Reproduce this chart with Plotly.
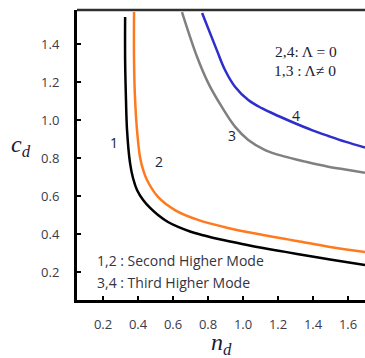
import plotly.graph_objects as go

# Mode curves: c_d versus n_d
nd_1 = [0.326, 0.326, 0.331, 0.337, 0.354, 0.371, 0.394, 0.429, 0.469, 0.514, 0.571,
        0.629, 0.697, 0.766, 0.846, 0.926, 1.017, 1.114, 1.211, 1.309, 1.497, 1.697]
cd_1 = [1.542, 1.316, 1.105, 0.947, 0.774, 0.695, 0.632, 0.579, 0.537, 0.500, 0.463,
        0.437, 0.413, 0.395, 0.376, 0.361, 0.343, 0.326, 0.311, 0.295, 0.266, 0.237]

nd_2 = [0.377, 0.377, 0.383, 0.394, 0.411, 0.429, 0.451, 0.514, 0.611, 0.743, 0.914,
        1.114, 1.309, 1.497, 1.697]
cd_2 = [1.568, 1.316, 1.105, 0.947, 0.805, 0.737, 0.684, 0.595, 0.526, 0.474, 0.432,
        0.395, 0.363, 0.332, 0.305]

nd_3 = [0.651, 0.737, 0.802, 0.878, 0.954, 1.030, 1.126, 1.240, 1.354, 1.487, 1.602, 1.697]
cd_3 = [1.568, 1.333, 1.193, 1.070, 0.965, 0.895, 0.842, 0.807, 0.781, 0.754, 0.737, 0.722]

nd_4 = [0.766, 0.850, 0.897, 0.954, 1.030, 1.107, 1.202, 1.297, 1.393, 1.487, 1.583, 1.697]
cd_4 = [1.563, 1.368, 1.263, 1.175, 1.105, 1.062, 1.021, 0.983, 0.947, 0.916, 0.886, 0.855]

curve_names = ["1", "2", "3", "4"]
curve_colors = ["#000000", "#FF7A1E", "#808080", "#2E2ECC"]

x_ticks = [0.2, 0.4, 0.6, 0.8, 1.0, 1.2, 1.4, 1.6]
y_ticks = [0.2, 0.4, 0.6, 0.8, 1.0, 1.2, 1.4]

label_pos = {"1": (0.263, 0.884), "2": (0.52, 0.779), "3": (0.937, 0.921), "4": (1.303, 1.026)}

fig = go.Figure()
for name, xs, ys, col in zip(curve_names, [nd_1, nd_2, nd_3, nd_4],
                             [cd_1, cd_2, cd_3, cd_4], curve_colors):
    fig.add_trace(go.Scatter(x=xs, y=ys, mode="lines", name=name,
                             line=dict(color=col, width=2.5, shape="spline", smoothing=1),
                             showlegend=False))

tick_font = dict(family="Open Sans, sans-serif", size=13, color="#3a3a4a")

fig.update_layout(
    width=365, height=358,
    margin=dict(l=77, r=0, t=10, b=58),
    paper_bgcolor="white", plot_bgcolor="white",
    xaxis=dict(range=[0.051, 1.697], tickvals=x_ticks, ticktext=[f"{v:.1f}" for v in x_ticks],
               showgrid=False, zeroline=False, showline=True, linecolor="black", linewidth=3,
               ticks="inside", ticklen=4, tickwidth=2, tickcolor="black",
               tickfont=tick_font, ticklabelstandoff=10),
    yaxis=dict(range=[0.0526, 1.579], tickvals=y_ticks, ticktext=[f"{v:.1f}" for v in y_ticks],
               showgrid=False, zeroline=False, showline=True, linecolor="black", linewidth=3,
               ticks="inside", ticklen=4, tickwidth=2, tickcolor="black",
               tickfont=tick_font, ticklabelstandoff=12),
)

# top frame line
fig.add_shape(type="line", xref="paper", yref="paper", x0=0, x1=1, y0=1, y1=1,
              line=dict(color="#303030", width=2.5))

# axis titles
title_font = dict(family="Liberation Serif, DejaVu Serif, serif", size=24, color="#1a1a3a")
fig.add_annotation(xref="paper", yref="paper", x=-0.236, y=0.53, showarrow=False,
                   text="<i>c<sub>d</sub></i>", font=title_font)
fig.add_annotation(xref="paper", yref="paper", x=0.5, y=-0.21, showarrow=False,
                   text="<i>n<sub>d</sub></i>", font=title_font)

# curve numbers
num_font = dict(family="Open Sans, sans-serif", size=14, color="#222233")
for name in curve_names:
    x, y = label_pos[name]
    fig.add_annotation(x=x, y=y, text=name, showarrow=False, font=num_font)

# Lambda notes
lam_font = dict(family="Liberation Serif, DejaVu Serif, serif", size=15.5, color="#222233")
fig.add_annotation(x=1.171, y=1.358, xanchor="left", text="2,4: Λ = 0",
                   showarrow=False, font=lam_font)
fig.add_annotation(x=1.166, y=1.258, xanchor="left", text="1,3 : Λ≠ 0",
                   showarrow=False, font=lam_font)

# mode descriptions
mode_font = dict(family="Open Sans, sans-serif", size=14, color="#333344")
fig.add_annotation(x=0.154, y=0.258, xanchor="left", text="1,2 : Second Higher Mode",
                   showarrow=False, font=mode_font)
fig.add_annotation(x=0.154, y=0.147, xanchor="left", text="3,4 : Third Higher Mode",
                   showarrow=False, font=mode_font)

fig.write_html("out.html")
